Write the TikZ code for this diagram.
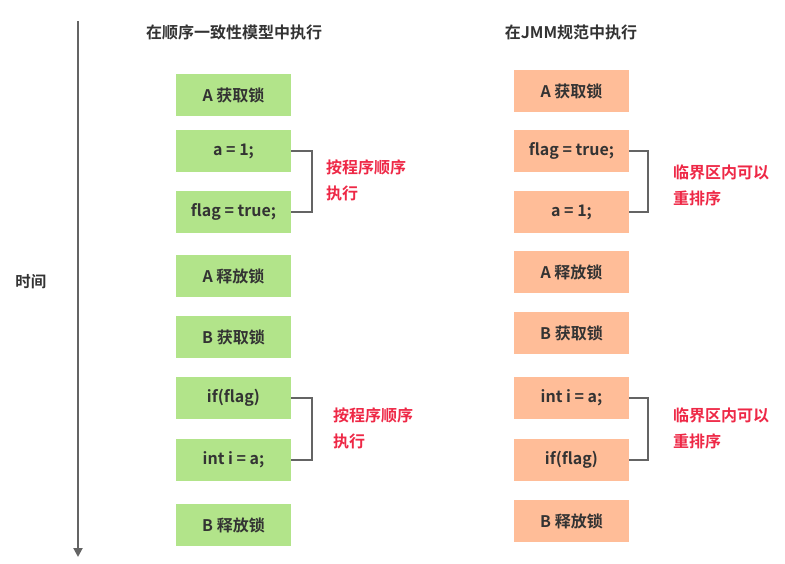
\documentclass[tikz,border=0pt]{standalone}
\usepackage{fontspec}
\setmainfont{Noto Sans CJK SC}[BoldFont={* Bold}]
\usetikzlibrary{arrows.meta}
\definecolor{gbox}{RGB}{178,228,138}
\definecolor{obox}{RGB}{255,189,152}
\definecolor{txt}{RGB}{51,51,51}
\definecolor{lbl}{RGB}{238,40,70}
\definecolor{brk}{RGB}{100,100,100}
\begin{document}
\begin{tikzpicture}[x=1pt,y=-1pt,
  opbox/.style={minimum width=115pt,minimum height=42pt,inner sep=0pt,text=txt,font=\fontsize{16}{18}\selectfont\bfseries},
  gop/.style={opbox,fill=gbox},
  oop/.style={opbox,fill=obox},
  ttl/.style={text=txt,font=\fontsize{16}{18}\selectfont\bfseries,inner sep=0pt},
  note/.style={text=lbl,font=\fontsize{16}{26}\selectfont\bfseries,inner sep=0pt,anchor=west,align=left},
  brace/.style={draw=brk,line width=1.8pt}]
\useasboundingbox (0,0) rectangle (785,564);
% time axis
\coordinate (tTop) at (78,21);
\coordinate (tBot) at (78,557);
\draw[draw=brk,line width=2pt,-{Triangle[length=9pt,width=9pt]}] (tTop) -- (tBot);
\node[ttl,font=\fontsize{15.5}{18}\selectfont\bfseries] (time) at (31,282) {时间};
% titles
\node[ttl] (t1) at (234,32) {在顺序一致性模型中执行};
\node[ttl] (t2) at (571,32) {在JMM规范中执行};
% left column
\node[gop] (l1) at (233.5,95) {A 获取锁};
\node[gop] (l2) at (233.5,151) {a = 1;};
\node[gop] (l3) at (233.5,212) {flag = true;};
\node[gop] (l4) at (233.5,276) {A 释放锁};
\node[gop] (l5) at (233.5,337) {B 获取锁};
\node[gop] (l6) at (233.5,398) {if(flag)};
\node[gop] (l7) at (233.5,460) {int i = a;};
\node[gop] (l8) at (233.5,525) {B 释放锁};
% right column
\node[oop] (r1) at (571.5,91) {A 获取锁};
\node[oop] (r2) at (571.5,151) {flag = true;};
\node[oop] (r3) at (571.5,212) {a = 1;};
\node[oop] (r4) at (571.5,272) {A 释放锁};
\node[oop] (r5) at (571.5,333) {B 获取锁};
\node[oop] (r6) at (571.5,398) {int i = a;};
\node[oop] (r7) at (571.5,460) {if(flag)};
\node[oop] (r8) at (571.5,521) {B 释放锁};
% brackets
\draw[brace] (l2.east) -- ++(21,0) |- (l3.east);
\draw[brace] (l6.east) -- ++(21,0) |- (l7.east);
\draw[brace] (r2.east) -- ++(19,0) |- (r3.east);
\draw[brace] (r6.east) -- ++(19,0) |- (r7.east);
% notes
\node[note] (n1) at (326,180) {按程序顺序\\执行};
\node[note] (n2) at (333,428) {按程序顺序\\执行};
\node[note] (n3) at (673,185) {临界区内可以\\重排序};
\node[note] (n4) at (673,428) {临界区内可以\\重排序};
\end{tikzpicture}
\end{document}
